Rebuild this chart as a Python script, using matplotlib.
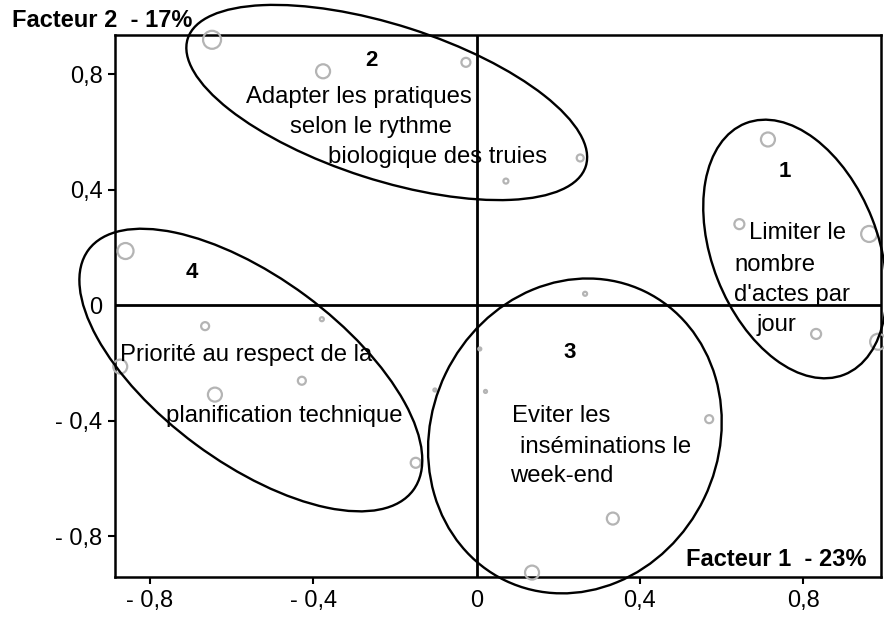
import matplotlib
matplotlib.use("Agg")
import matplotlib.pyplot as plt
from matplotlib.patches import Ellipse
from matplotlib.transforms import ScaledTranslation

plt.rcParams['font.family'] = ['Liberation Sans', 'DejaVu Sans']

# individual projections on factor 1 / factor 2, with marker radius (quality)
pts_x = [-0.648, -0.376, -0.026, 0.254, 0.072,
         0.714, 0.644, 0.962, 0.832, 0.984,
         -0.860, -0.665, -0.379, -0.873, -0.428, -0.641, -0.149, -0.102,
         0.266, 0.008, 0.022, 0.570, 0.334, 0.136]
pts_y = [0.919, 0.810, 0.841, 0.510, 0.430,
         0.574, 0.281, 0.247, -0.099, -0.126,
         0.188, -0.072, -0.048, -0.212, -0.261, -0.309, -0.545, -0.293,
         0.040, -0.151, -0.298, -0.394, -0.738, -0.925]
pts_r = [9, 7, 4.5, 3.5, 2.5,
         7, 5, 8, 5, 8,
         8, 4, 2, 7, 4, 7, 5, 1.5,
         2, 1.5, 1.5, 4, 6, 7]

# cluster centres
grp_names = ['1', '2', '3', '4']
grp_cx = [0.780, -0.220, 0.241, -0.553]
grp_cy = [0.195, 0.702, -0.452, -0.224]

x_ticks = [-0.8, -0.4, 0, 0.4, 0.8]
x_labels = ['- 0,8', '- 0,4', '0', '0,4', '0,8']
y_ticks = [-0.8, -0.4, 0, 0.4, 0.8]
y_labels = ['- 0,8', '- 0,4', '0', '0,4', '0,8']

fig = plt.figure(figsize=(8.84, 6.2), dpi=100)
ax = fig.add_axes([0.130, 0.069, 0.8666, 0.8738])
ax.set_xlim(-0.886, 0.991)
ax.set_ylim(-0.941, 0.934)

ax.axhline(0, color='black', lw=2, zorder=2)
ax.axvline(0, color='black', lw=2, zorder=2)

ax.scatter(pts_x, pts_y, s=[(2 * r * 0.72) ** 2 for r in pts_r],
           facecolors='none', edgecolors='#b4b4b4', linewidths=1.6,
           clip_on=False, zorder=3)

# ellipse shapes (width, height in inches, angle) drawn around each centre
shapes = [(2.70, 1.66, -68.6), (4.18, 1.55, -17.8), (3.21, 2.87, 64.3), (4.04, 1.85, -36.5)]
for cx, cy, (w, h, ang) in zip(grp_cx, grp_cy, shapes):
    tr = fig.dpi_scale_trans + ScaledTranslation(cx, cy, ax.transData)
    ax.add_patch(Ellipse((0, 0), w, h, angle=ang, transform=tr, fill=False,
                         edgecolor='black', lw=1.7, clip_on=False, zorder=4))

num_pos = [(0.756, 0.464), (-0.257, 0.849), (0.229, -0.162), (-0.697, 0.112)]
for name, (tx, ty) in zip(grp_names, num_pos):
    ax.text(tx, ty, name, fontsize=16, fontweight='bold', ha='center', va='center', zorder=5)

lines = [
    ('Limiter le', 0.668, 0.251), ('nombre', 0.632, 0.140),
    ("d'actes par", 0.632, 0.036), ('jour', 0.686, -0.068),
    ('Adapter les pratiques', -0.564, 0.722), ('selon le rythme', -0.458, 0.616),
    ('biologique des truies', -0.364, 0.512),
    ('Priorité au respect de la', -0.873, -0.172), ('planification technique', -0.762, -0.384),
    ('Eviter les', 0.086, -0.384), ('inséminations le', 0.106, -0.491),
    ('week-end', 0.082, -0.590),
]
for txt, tx, ty in lines:
    ax.text(tx, ty, txt, fontsize=17.2, ha='left', va='center', zorder=5)

ax.set_xticks(x_ticks)
ax.set_xticklabels(x_labels)
ax.set_yticks(y_ticks)
ax.set_yticklabels(y_labels)
ax.tick_params(direction='out', length=5, width=1.5, labelsize=17, pad=4)
ax.xaxis.get_major_ticks()[2].tick1line.set_visible(False)
ax.yaxis.get_major_ticks()[2].tick1line.set_visible(False)
for sp in ax.spines.values():
    sp.set_linewidth(1.8)

fig.text(12 / 884, 1 - 20.5 / 620, 'Facteur 2  - 17%', fontsize=17, fontweight='bold',
         ha='left', va='center')
fig.text(866 / 884, 1 - 559 / 620, 'Facteur 1  - 23%', fontsize=17, fontweight='bold',
         ha='right', va='center')

fig.savefig('out.png', dpi=100)
